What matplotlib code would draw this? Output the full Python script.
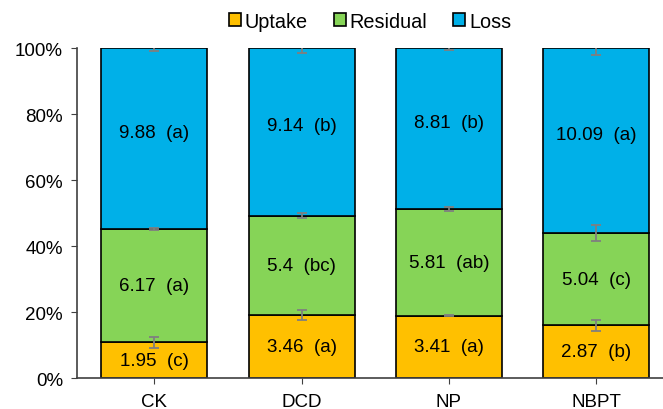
import numpy as np
import matplotlib.pyplot as plt

plt.rcParams['font.family'] = ['Liberation Sans', 'DejaVu Sans']

treatments = ['CK', 'DCD', 'NP', 'NBPT']
uptake = [1.95, 3.46, 3.41, 2.87]
residual = [6.17, 5.4, 5.81, 5.04]
loss = [9.88, 9.14, 8.81, 10.09]
uptake_sig = ['c', 'a', 'a', 'b']
residual_sig = ['a', 'bc', 'ab', 'c']
loss_sig = ['a', 'b', 'b', 'a']
# error bars in percentage points
uptake_err = [1.7, 1.5, 0.2, 1.8]
residual_err = [0.3, 0.7, 0.6, 2.4]
loss_err = [0.8, 1.3, 0.4, 1.9]

total = np.array(uptake) + np.array(residual) + np.array(loss)
up_pct = np.array(uptake) / total * 100
res_pct = np.array(residual) / total * 100
loss_pct = np.array(loss) / total * 100

fig = plt.figure(figsize=(6.63, 4.10), dpi=100)
ax = fig.add_axes([0.116, 0.0756, 0.884, 0.804])

x = np.arange(len(treatments))
w = 0.72
ek = dict(ecolor='#7f7f7f', elinewidth=1.3, capsize=3.5, capthick=1.3)

ax.bar(x, up_pct, w, color='#FFC000', edgecolor='black', linewidth=1.2, label='Uptake')
ax.bar(x, res_pct, w, bottom=up_pct, color='#86D457', edgecolor='black', linewidth=1.2, label='Residual')
ax.bar(x, loss_pct, w, bottom=up_pct + res_pct, color='#00B0E8', edgecolor='black', linewidth=1.2, label='Loss')

ax.errorbar(x, up_pct, yerr=uptake_err, fmt='none', **ek)
ax.errorbar(x, up_pct + res_pct, yerr=residual_err, fmt='none', **ek)
ax.errorbar(x, up_pct + res_pct + loss_pct, yerr=loss_err, fmt='none', **ek)

fs = 13.5
for i in range(len(treatments)):
    ax.text(x[i], up_pct[i] / 2, '%s  (%s)' % (uptake[i], uptake_sig[i]),
            ha='center', va='center', fontsize=fs)
    ax.text(x[i], up_pct[i] + res_pct[i] / 2, '%s  (%s)' % (residual[i], residual_sig[i]),
            ha='center', va='center', fontsize=fs)
    ax.text(x[i], up_pct[i] + res_pct[i] + loss_pct[i] / 2 + 2, '%s  (%s)' % (loss[i], loss_sig[i]),
            ha='center', va='center', fontsize=fs)

ax.set_xlim(-0.527, 3.455)
ax.set_ylim(0, 100)
ax.set_xticks(x)
ax.set_xticklabels(treatments, fontsize=13.5)
ax.set_yticks(np.arange(0, 101, 20))
ax.set_yticklabels(['%d%%' % v for v in range(0, 101, 20)], fontsize=13.5)
ax.tick_params(axis='both', direction='out', length=4, color='#404040', pad=6)
ax.tick_params(axis='x', pad=7)

for s in ['top', 'right']:
    ax.spines[s].set_visible(False)
for s in ['left', 'bottom']:
    ax.spines[s].set_color('#404040')
    ax.spines[s].set_linewidth(1.2)

ax.legend(loc='lower center', bbox_to_anchor=(0.5, 1.03), ncol=3, frameon=False,
          fontsize=14.3, handlelength=0.6, handleheight=0.6, handletextpad=0.2,
          columnspacing=1.3, borderaxespad=0)

plt.savefig('out.png', dpi=100)
